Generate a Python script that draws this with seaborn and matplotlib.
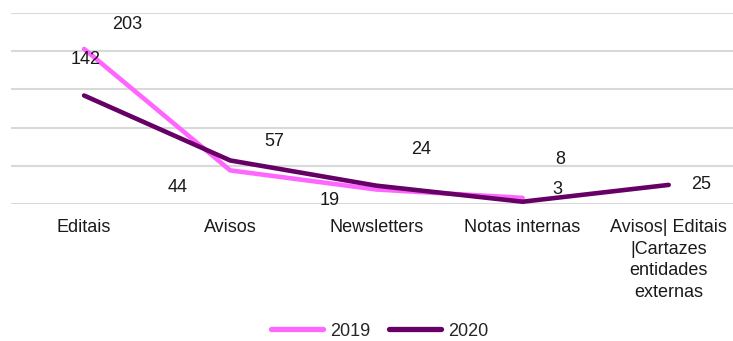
import matplotlib
matplotlib.use("Agg")
import matplotlib.pyplot as plt
import seaborn as sns
import numpy as np
import pandas as pd

categories = ["Editais", "Avisos", "Newsletters", "Notas internas",
              "Avisos| Editais\n|Cartazes\nentidades\nexternas"]
values_2019 = [203, 44, 19, 8, np.nan]
values_2020 = [142, 57, 24, 3, 25]
years = ["2019", "2020"]
colors = {"2019": "#FF66FF", "2020": "#660066"}

# label offsets in pixels (dx, dy) for each point's value text
offsets_2019 = [(43, 24), (-53, -17), (-47, -11), (38, 38), (0, 0)]
offsets_2020 = [(2, 36), (44, 19), (45, 36), (35, 12), (32, 0)]

df = pd.DataFrame({
    "categoria": categories * 2,
    "x": list(range(len(categories))) * 2,
    "valor": values_2019 + values_2020,
    "ano": [years[0]] * len(categories) + [years[1]] * len(categories),
})

sns.set_theme(style="white")
plt.rcParams["font.family"] = ["Liberation Sans", "DejaVu Sans"]

fig = plt.figure(figsize=(7.33, 3.41), dpi=100)
ax = fig.add_axes([11 / 733, 137 / 341, 722 / 733, 191 / 341])

sns.lineplot(data=df, x="x", y="valor", hue="ano", palette=colors,
             linewidth=3.3, ax=ax, legend=False, sort=False)

ax.set_xlim(-0.5, 4.44)
ax.set_ylim(0, 250)
ax.set_yticks(np.arange(0, 251, 50))
ax.yaxis.grid(True, color="#D9D9D9", linewidth=1.5)
ax.set_axisbelow(True)
ax.tick_params(axis="y", left=False, labelleft=False)
ax.set_xticks(range(len(categories)))
ax.set_xticklabels(categories, fontsize=13, color="#1a1a1a", linespacing=1.35)
ax.tick_params(axis="x", bottom=False, pad=5)
ax.set_xlabel("")
ax.set_ylabel("")
for s in ax.spines.values():
    s.set_visible(False)

for vals, offs in ((values_2019, offsets_2019), (values_2020, offsets_2020)):
    for i, (v, (dx, dy)) in enumerate(zip(vals, offs)):
        if np.isnan(v):
            continue
        ax.annotate(f"{int(v)}", (i, v), xytext=(dx, dy),
                    textcoords="offset pixels", ha="center", va="center",
                    fontsize=13, color="#1a1a1a", annotation_clip=False)

handles = [plt.Line2D([], [], color=colors[y], linewidth=3.8) for y in years]
fig.legend(handles, years, loc="center", bbox_to_anchor=(0.518, 10 / 341),
           ncol=2, frameon=False, fontsize=13, handlelength=2.9,
           handletextpad=0.4, columnspacing=1.0)

fig.savefig("out.png", dpi=100)
